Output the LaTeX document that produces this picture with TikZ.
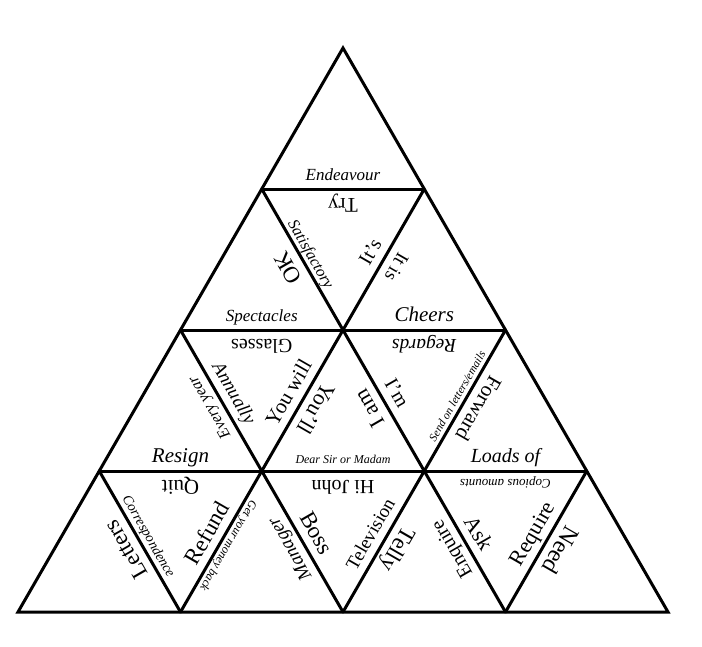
\documentclass[tikz,border=0pt]{standalone}
\usepackage{fontspec}
\setmainfont{Liberation Serif}
\usetikzlibrary{calc}
\newcommand\fs[1]{\fontsize{#1}{#1}\selectfont}
\newcommand\lab[6][9]{%
  \path let \p1=(#3), \p2=(#4), \n1={atan2(\y2-\y1,\x2-\x1)} in
    node[lbl, rotate=\n1] (#2) at ($(#3)!0.5!(#4)!#1pt!90:(#4)$) {#5#6};%
}
\tikzset{
  lbl/.style={anchor=base, inner sep=0pt, outer sep=0pt},
  edge/.style={line width=3pt, line join=miter, line cap=round},
}
\begin{document}
\begin{tikzpicture}[x=1pt,y=-1pt]
\useasboundingbox[fill=white] (0,0) rectangle (702,646);
% vertices
\foreach \r in {0,...,4}{
  \foreach \i in {0,...,\r}{
    \coordinate (p\r\i) at ({343-81.25*\r+162.5*\i},{48+141*\r});
  }
}
% lines
\draw[edge] (p00) -- (p40) -- (p44) -- cycle;
\draw[edge] (p10) -- (p11);
\draw[edge] (p20) -- (p22);
\draw[edge] (p30) -- (p33);
\draw[edge] (p10) -- (p43);
\draw[edge] (p20) -- (p42);
\draw[edge] (p30) -- (p41);
\draw[edge] (p11) -- (p41);
\draw[edge] (p22) -- (p42);
\draw[edge] (p33) -- (p43);
% top
\lab{lendeavour}{p10}{p11}{\itshape\fs{17}}{Endeavour}
% row 2
\lab[5]{lsatisf}{p10}{p21}{\itshape\fs{16}}{Satisfactory}
\lab{litsq}{p21}{p11}{\fs{20}}{It's}
\lab{ltry}{p11}{p10}{\fs{21}}{Try}
\lab{lspect}{p20}{p21}{\itshape\fs{17}}{Spectacles}
\lab{lok}{p21}{p10}{\fs{23}}{OK}
\lab{litis}{p11}{p21}{\fs{19}}{It is}
\lab{lcheers}{p21}{p22}{\itshape\fs{21}}{Cheers}
% row 3
\lab{lresign}{p30}{p31}{\itshape\fs{21}}{Resign}
\lab{levery}{p31}{p20}{\itshape\fs{16}}{Every year}
\lab{lannual}{p20}{p31}{\itshape\fs{19}}{Annually}
\lab{lyouwill}{p31}{p21}{\fs{21}}{You will}
\lab{lglasses}{p21}{p20}{\fs{20}}{Glasses}
\lab{lyoull}{p21}{p31}{\fs{22}}{You'll}
\lab[8]{ldear}{p31}{p32}{\itshape\fs{12}}{Dear Sir or Madam}
\lab{liam}{p32}{p21}{\fs{22}}{I am}
\lab{lim}{p21}{p32}{\fs{20}}{I'm}
\lab[5]{lsend}{p32}{p22}{\itshape\fs{11.5}}{Send on letters/emails}
\lab{lregards}{p22}{p21}{\itshape\fs{19.5}}{Regards}
\lab{lforward}{p22}{p32}{\fs{21}}{Forward}
\lab{lloads}{p32}{p33}{\itshape\fs{20}}{Loads of}
% row 4
\lab{lletters}{p41}{p30}{\fs{23}}{Letters}
\lab[6]{lcorresp}{p30}{p41}{\itshape\fs{14}}{Correspondence}
\lab{lrefund}{p41}{p31}{\fs{23}}{Refund}
\lab{lquit}{p31}{p30}{\fs{21}}{Quit}
\lab[5]{lgetmoney}{p31}{p41}{\itshape\fs{12}}{Get your money back}
\lab{lmanager}{p42}{p31}{\itshape\fs{19}}{Manager}
\lab{lboss}{p31}{p42}{\fs{23}}{Boss}
\lab{ltelevision}{p42}{p32}{\fs{19}}{Television}
\lab{lhijohn}{p32}{p31}{\fs{20}}{Hi John}
\lab{ltelly}{p32}{p42}{\fs{23}}{Telly}
\lab{lenquire}{p43}{p32}{\fs{20}}{Enquire}
\lab{lask}{p32}{p43}{\fs{22}}{Ask}
\lab{lrequire}{p43}{p33}{\fs{22}}{Require}
\lab[8]{lcopious}{p33}{p32}{\itshape\fs{13}}{Copious amounts}
\lab{lneed}{p33}{p43}{\fs{24}}{Need}
\end{tikzpicture}
\end{document}
